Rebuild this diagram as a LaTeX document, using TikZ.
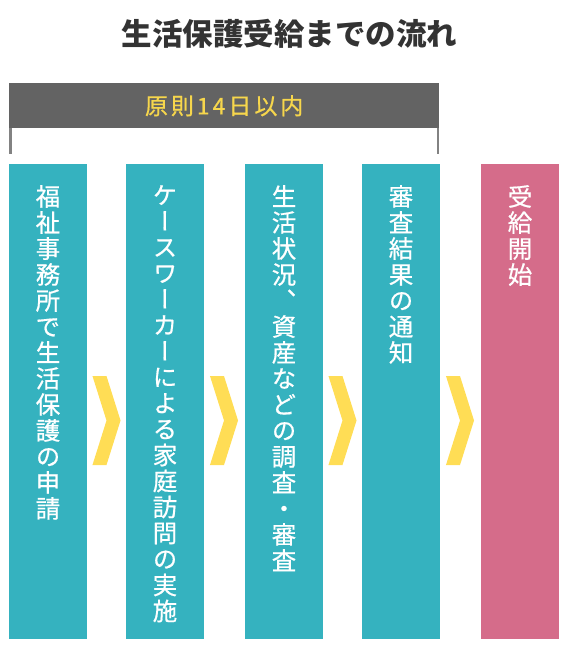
\documentclass[tikz,border=0pt]{standalone}
\usepackage{fontspec}
\setmainfont{Noto Sans CJK JP}
\newfontfamily\tatefont[RawFeature=+vert, FakeBold=0.6]{Noto Sans CJK JP}
\newfontfamily\limitfont[LetterSpace=13, FakeBold=0.5]{Noto Sans CJK JP}
\usetikzlibrary{shapes.symbols,positioning}

\definecolor{stepteal}{RGB}{53,178,191}
\definecolor{steppink}{RGB}{213,108,138}
\definecolor{chevyellow}{RGB}{255,221,85}
\definecolor{bargray}{RGB}{99,99,99}
\definecolor{bracketgray}{RGB}{130,130,130}
\definecolor{titlegray}{RGB}{51,51,51}
\definecolor{limityellow}{RGB}{246,214,76}

%% one character per line, for the upright columns
\makeatletter
\newcommand\tate[1]{\vbox{\tatefont\fontsize{24.5}{26}\selectfont\baselineskip=26pt
  \@tfor\tatechar:=#1\do{\hbox to 26pt{\hss\tatechar\hss}}}}
\makeatother

\tikzstyle{stepbox}=[rectangle, fill=stepteal, minimum width=78, minimum height=475, inner sep=0, anchor=north]
\tikzstyle{startbox}=[stepbox, fill=steppink]
\tikzstyle{steptext}=[text=white, inner sep=0, anchor=north]
\tikzstyle{chevron}=[signal, signal to=east, signal from=west, signal pointer angle=145, fill=chevyellow, minimum width=27, minimum height=89, inner sep=0]
\tikzstyle{limitbar}=[rectangle, fill=bargray, minimum width=430, minimum height=45, inner sep=0, anchor=north west, text=limityellow, font=\limitfont\fontsize{23}{25}\selectfont]
\tikzstyle{bracket}=[draw=bracketgray, line width=2.5]

\begin{document}
\begin{tikzpicture}[x=1pt,y=-1pt]
  \useasboundingbox (0,0) rectangle (565,665);

  %% Title
  \draw (289.5,33.5) node[text=titlegray, font=\fontsize{30.5}{32}\selectfont\bfseries] (title) {生活保護受給までの流れ};

  %% 14 days bar
  \draw (9,83) node[limitbar] (limit) {原則14日以内};
  \draw[bracket] ([xshift=1.25]limit.south west) -- ++(0,26);
  \draw[bracket] ([xshift=-1.5]limit.south east) -- ++(0,26);

  %% Steps
  \draw (48,164) node[stepbox] (S1) {};
  \draw (165,164) node[stepbox] (S2) {};
  \draw (284,164) node[stepbox] (S3) {};
  \draw (401,164) node[stepbox] (S4) {};
  \draw (520,164) node[startbox] (S5) {};

  \draw ([yshift=-21]S1.north) node[steptext] (T1) {\tate{福祉事務所で生活保護の申請}};
  \draw ([yshift=-21]S2.north) node[steptext] (T2) {\tate{ケースワーカーによる家庭訪問の実施}};
  \draw ([yshift=-21]S3.north) node[steptext] (T3) {\tate{生活状況、資産などの調査・審査}};
  \draw ([yshift=-21]S4.north) node[steptext] (T4) {\tate{審査結果の通知}};
  \draw ([yshift=-21]S5.north) node[steptext] (T5) {\tate{受給開始}};

  %% Chevrons between steps
  \draw (106.5,420.5) node[chevron] (C1) {};
  \draw (224,420.5) node[chevron] (C2) {};
  \draw (342.5,420.5) node[chevron] (C3) {};
  \draw (460,420.5) node[chevron] (C4) {};
\end{tikzpicture}
\end{document}
